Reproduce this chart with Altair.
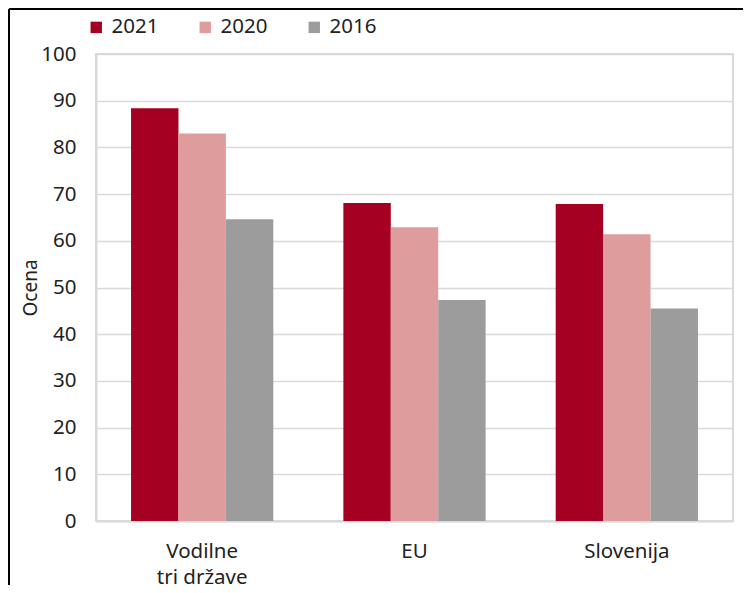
import altair as alt
import pandas as pd

categories = ["Vodilne tri države", "EU", "Slovenija"]
years = ["2021", "2020", "2016"]
v2021 = [88.4, 68.1, 67.9]
v2020 = [83.0, 62.9, 61.4]
v2016 = [64.6, 47.3, 45.5]
colors = ["#A50021", "#DE9C9C", "#9C9C9C"]

rows = []
for i, c in enumerate(categories):
    for y, vals in zip(years, [v2021, v2020, v2016]):
        rows.append({"cat": c, "year": y, "val": vals[i]})
df = pd.DataFrame(rows)

W, H = 637, 467
FONT = "Noto Sans"

bars = alt.Chart(df).mark_bar().encode(
    x=alt.X("cat:N", sort=categories, title=None,
            scale=alt.Scale(paddingInner=0.33, paddingOuter=0.165),
            axis=alt.Axis(labelAngle=0, ticks=False, labelPadding=20,
                          labelFontSize=20.5, labelLineHeight=26,
                          labelExpr="datum.label == 'Vodilne tri države' ? ['Vodilne', 'tri države'] : datum.label",
                          domainColor="#D9D9D9", domainWidth=2, grid=False)),
    xOffset=alt.XOffset("year:N", sort=years, scale=alt.Scale(paddingInner=0, paddingOuter=0)),
    y=alt.Y("val:Q", title="Ocena", scale=alt.Scale(domain=[0, 100]),
            axis=alt.Axis(values=list(range(0, 101, 10)), ticks=False, labelPadding=20,
                          labelFontSize=20.5, titleFontSize=19, titleFontWeight="normal",
                          titlePadding=0, domainColor="#D9D9D9", domainWidth=2,
                          gridColor="#D9D9D9", gridWidth=1.5)),
    color=alt.Color("year:N", sort=years,
                    scale=alt.Scale(domain=years, range=colors),
                    legend=alt.Legend(title=None, orient="none", direction="horizontal",
                                      legendX=-10, legendY=-37,
                                      symbolType="square", symbolSize=130,
                                      symbolStrokeWidth=0, labelFontSize=20.5,
                                      columnPadding=36, labelOffset=5)),
)

frame_left = alt.Chart(pd.DataFrame({"k": [0]})).mark_rule(color="black", strokeWidth=2, clip=False).encode(
    x=alt.value(-87), y=alt.value(-45), y2=alt.value(H + 64))
frame_top = alt.Chart(pd.DataFrame({"k": [0]})).mark_rule(color="black", strokeWidth=2, clip=False).encode(
    x=alt.value(-87), x2=alt.value(W + 10), y=alt.value(-45))

chart = alt.layer(bars, frame_left, frame_top).properties(
    width=W, height=H, padding=0
).configure(font=FONT).configure_view(
    stroke="#D9D9D9", strokeWidth=2
).configure_axis(
    labelColor="#222222", titleColor="#222222", labelFont=FONT, titleFont=FONT
).configure_legend(labelColor="#222222", labelFont=FONT)

chart.save("out.html", embed_options={"renderer": "svg", "actions": False})
